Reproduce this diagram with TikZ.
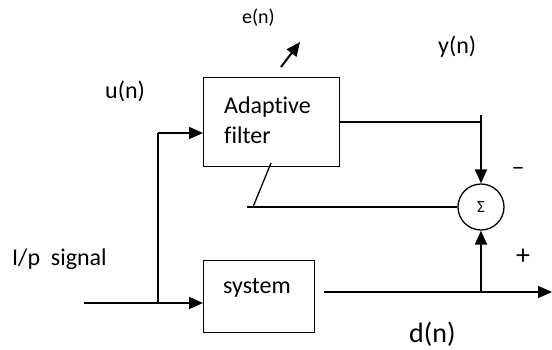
\documentclass[tikz,border=0pt]{standalone}
\usepackage{fontspec}
\setmainfont{Carlito}[Ligatures=NoCommon]
\usetikzlibrary{arrows.meta}
\tikzset{
  blk/.style={draw, line width=1.3pt, rectangle, inner sep=0pt},
  sumc/.style={draw, line width=1.3pt, circle, inner sep=0pt, minimum size=46pt},
  txt/.style={inner sep=0pt, font=\fontsize{24}{28}\selectfont},
  wire/.style={line width=1.3pt},
  arr/.style={line width=1.5pt, -{Triangle[length=14pt,width=12pt]}},
  thickarr/.style={line width=2pt, -{Triangle[length=14pt,width=12pt]}},
}
\begin{document}
\begin{tikzpicture}[x=1pt,y=-1pt]
\useasboundingbox (0,0) rectangle (552,349);
% blocks
\node[blk, minimum width=136pt, minimum height=89pt, anchor=north west] (af) at (203,77) {};
\node[blk, minimum width=111pt, minimum height=72pt, anchor=north west] (sys) at (203,260) {};
\node[sumc, font=\fontsize{17}{18}\selectfont] (sum) at (481,207) {Σ};
% texts
\node[txt, anchor=base west] (t1) at (224,113) {Adaptive};
\node[txt, anchor=base west] (t2) at (224,143) {filter};
\node[txt, anchor=base west] (t3) at (223,293) {system};
\node[txt, anchor=base west] (un) at (105,98) {u(n)};
\node[txt, anchor=base west] (ip) at (12,265) {I/p\ \ signal};
\node[inner sep=0pt, anchor=base west, font=\fontsize{20}{24}\selectfont] (en) at (242,23) {e(n)};
\node[txt, anchor=base west] (yn) at (438,53) {y(n)};
\node[inner sep=0pt, anchor=base west, font=\fontsize{28}{32}\selectfont] (dn) at (409,342) {d(n)};
\node[inner sep=0pt, font=\fontsize{26}{28}\selectfont] (minus) at (518,171) {–};
\node[inner sep=0pt, font=\fontsize{28}{30}\selectfont] (plus) at (523,257) {+};
% coordinates
\coordinate (in) at (84,303);
\coordinate (j) at (158,303);
\coordinate (ju) at (158,133);
\coordinate (yo) at (481,122);
\coordinate (yt) at (481,115);
\coordinate (fb) at (247,207);
\coordinate (fd1) at (253,207);
\coordinate (fd2) at (271,163);
\coordinate (e1) at (281,67);
\coordinate (e2) at (300,42);
\coordinate (so) at (324,292);
\coordinate (jd) at (481,292);
\coordinate (out) at (552,292);
% connectors
\draw[wire] (in) -- (j);
\draw[arr] (j) -- (j -| sys.west);
\draw[wire] (j) -- (ju);
\draw[arr] (ju) -- (ju -| af.west);
\draw[wire] (af.east |- yo) -- (yo);
\draw[thickarr] (yt) -- (sum.north);
\draw[wire] (sum.west) -- (fb);
\draw[wire] (fd1) -- (fd2);
\draw[thickarr] (e1) -- (e2);
\draw[arr] (so) -- (out);
\draw[thickarr] (jd) -- (sum.south);
\end{tikzpicture}
\end{document}
